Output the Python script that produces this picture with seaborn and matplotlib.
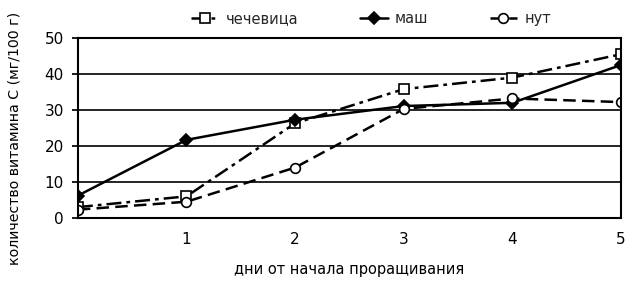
import matplotlib
matplotlib.use("Agg")
import matplotlib.pyplot as plt
import seaborn as sns
import pandas as pd

days = [0, 1, 2, 3, 4, 5]
lentil = [3.0, 6.0, 26.3, 35.8, 39.0, 45.5]
mung = [6.2, 21.7, 27.3, 31.1, 32.0, 42.5]
chickpea = [2.3, 4.5, 14.0, 30.3, 33.2, 32.2]
series_names = ["чечевица", "маш", "нут"]
x_ticks = [1, 2, 3, 4, 5]
y_ticks = [0, 10, 20, 30, 40, 50]

df = pd.DataFrame({
    "day": days * 3,
    "value": lentil + mung + chickpea,
    "series": [series_names[0]] * 6 + [series_names[1]] * 6 + [series_names[2]] * 6,
})

sns.set_theme(style="white")
plt.rcParams['font.family'] = ['DejaVu Sans']

fig = plt.figure(figsize=(6.33, 2.86), dpi=100)
ax = fig.add_axes([0.123, 0.238, 0.858, 0.629])

styles = {
    "чечевица": dict(marker="s", dashes=(6, 2, 1.5, 2), mfc="white"),
    "маш": dict(marker="D", dashes=(None), mfc="black"),
    "нут": dict(marker="o", dashes=(5, 2.5), mfc="white"),
}

for name in series_names:
    st = styles[name]
    sub = df[df["series"] == name]
    sns.lineplot(x="day", y="value", data=sub, ax=ax, color="black", linewidth=1.8,
                 marker=st["marker"], markersize=7 if st["marker"] != "D" else 6,
                 markerfacecolor=st["mfc"], markeredgecolor="black", markeredgewidth=1.2,
                 label=name)
for ln, name in zip(ax.get_lines(), series_names):
    d = styles[name]["dashes"]
    if d is not None:
        ln.set_dashes(d)

ax.set_xlim(0, 5)
ax.set_ylim(0, 50)
ax.set_xticks(x_ticks)
ax.set_yticks(y_ticks)
ax.yaxis.grid(True, color="black", linewidth=1.2)
ax.xaxis.grid(False)
for s in ax.spines.values():
    s.set_color("black")
    s.set_linewidth(1.5)
ax.tick_params(axis="both", labelsize=11, colors="black", pad=6)
ax.tick_params(axis="x", length=0, pad=10)
ax.tick_params(axis="y", length=4, left=True, direction="out")
ax.set_xlabel("дни от начала проращивания", fontsize=10.5, color="black", labelpad=11)
ax.set_ylabel("количество витамина С (мг/100 г)", fontsize=10.2, color="black")
ax.yaxis.set_label_coords(-0.104, 0.44)

ax.legend(loc="lower center", bbox_to_anchor=(0.54, 1.0), ncol=3, frameon=False,
          fontsize=10.5, handlelength=1.9, handletextpad=0.5, columnspacing=4.2,
          borderaxespad=0.4)

fig.savefig("out.png", dpi=100)
